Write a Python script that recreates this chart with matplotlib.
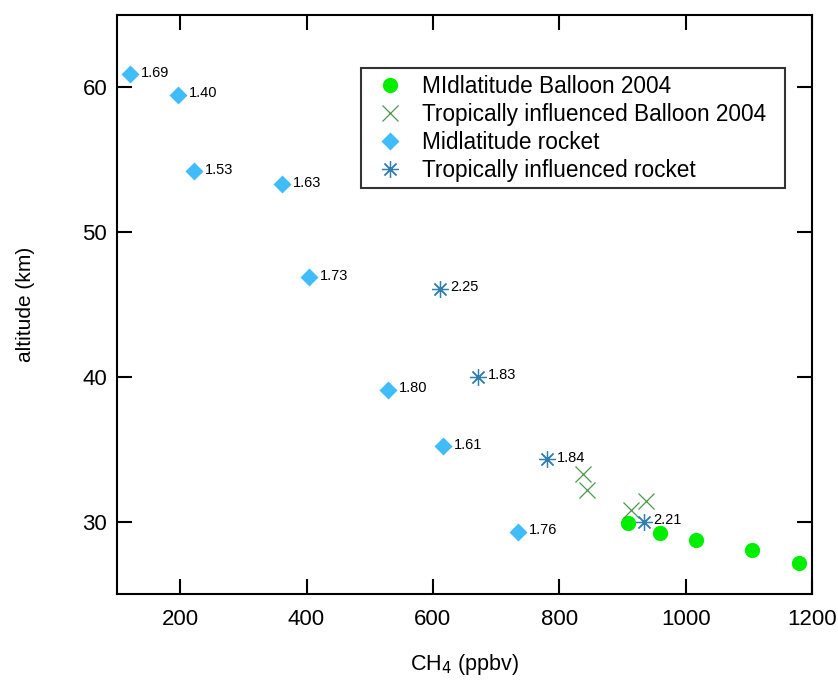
import numpy as np
import matplotlib
matplotlib.use("Agg")
import matplotlib.pyplot as plt

plt.rcParams['font.family'] = ['Liberation Sans', 'DejaVu Sans']

# Midlatitude balloon 2004
ball_mid_ch4 = [909, 959, 1016, 1105, 1179]
ball_mid_alt = [29.9, 29.2, 28.75, 28.05, 27.15]

# Tropically influenced balloon 2004
ball_trop_ch4 = [838, 844, 937, 914]
ball_trop_alt = [33.3, 32.15, 31.45, 30.8]

# Midlatitude rocket
rock_mid_ch4 = [121, 196, 222, 361, 404, 529, 616, 735]
rock_mid_alt = [60.9, 59.5, 54.2, 53.3, 46.9, 39.1, 35.2, 29.3]
rock_mid_lab = ['1.69', '1.40', '1.53', '1.63', '1.73', '1.80', '1.61', '1.76']

# Tropically influenced rocket
rock_trop_ch4 = [612, 671, 781, 934]
rock_trop_alt = [46.1, 40.0, 34.3, 30.0]
rock_trop_lab = ['2.25', '1.83', '1.84', '2.21']

fig = plt.figure(figsize=(8.38, 6.81), dpi=100)
ax = fig.add_axes([0.1396, 0.1278, 0.8294, 0.8502])

ax.plot(ball_mid_ch4, ball_mid_alt, 'o', color='#00EE00', ms=11, mec='none',
        label='MIdlatitude Balloon 2004')
ax.plot(ball_trop_ch4, ball_trop_alt, 'x', color='#4A9A4A', ms=11.5, mew=0.9,
        label='Tropically influenced Balloon 2004')
ax.plot(rock_mid_ch4, rock_mid_alt, 'D', color='#40BDF8', ms=9.5, mec='none',
        label='Midlatitude rocket')
ax.plot(rock_trop_ch4, rock_trop_alt, marker=(8, 2, 0), ls='none', color='#2F7FB0',
        ms=12, mew=0.9, label='Tropically influenced rocket')

for x, y, s in zip(rock_mid_ch4, rock_mid_alt, rock_mid_lab):
    ax.annotate(s, (x, y), xytext=(8, 1), textcoords='offset points',
                va='center', ha='left', fontsize=10.5)
for x, y, s in zip(rock_trop_ch4, rock_trop_alt, rock_trop_lab):
    ax.annotate(s, (x, y), xytext=(7, 1), textcoords='offset points',
                va='center', ha='left', fontsize=10.5)

ax.set_xlim(100, 1200)
ax.set_ylim(25, 65)
ax.set_xticks([200, 400, 600, 800, 1000, 1200])
ax.set_yticks([30, 40, 50, 60])
ax.tick_params(direction='in', length=11, width=1.5, labelsize=16,
               top=True, right=True, pad=7)
ax.tick_params(axis='x', pad=11)
for sp in ax.spines.values():
    sp.set_linewidth(1.5)

ax.set_xlabel('CH$_4$ (ppbv)', fontsize=15.5, labelpad=16)
ax.set_ylabel('altitude (km)', fontsize=15, labelpad=34)

leg = ax.legend(loc='upper left', bbox_to_anchor=(0.351, 0.705, 0.610, 0.203),
                mode='expand', borderaxespad=0,
                fontsize=16.3, frameon=True, fancybox=False, edgecolor='black',
                handletextpad=0.4, labelspacing=0.22, borderpad=0.28)
leg.get_frame().set_linewidth(1.5)

fig.savefig('out.png', dpi=100)
